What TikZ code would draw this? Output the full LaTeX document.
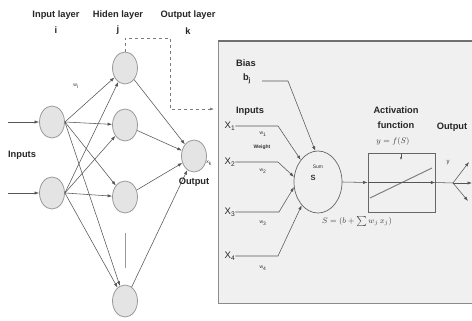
\documentclass[tikz,border=0pt]{standalone}
\usepackage{fontspec}
\setmainfont{Liberation Sans}
\usetikzlibrary{arrows.meta,shapes.geometric}
\definecolor{nodefill}{HTML}{E4E4E4}
\definecolor{nodeline}{HTML}{9A9A9A}
\definecolor{wire}{HTML}{555555}
\definecolor{boxfill}{HTML}{F0F0F0}
\definecolor{boxline}{HTML}{8C8C8C}
\begin{document}
\begin{tikzpicture}[x=1pt,y=-1pt,
  neuron/.style={ellipse,draw=nodeline,fill=nodefill,line width=0.8pt,minimum width=25pt,minimum height=32pt,inner sep=0pt},
  wirearrow/.style={draw=wire,line width=0.55pt,-{Latex[length=4.5pt,width=3.2pt]}},
  plainwire/.style={draw=wire,line width=0.55pt},
  lbl/.style={font=\bfseries\fontsize{9.3}{10}\selectfont,text=black!85,inner sep=0pt},
  tinytxt/.style={font=\fontsize{5}{6}\selectfont,text=black!80,inner sep=0pt},
  xl/.style={font=\fontsize{9.5}{10}\selectfont,text=black!85,inner sep=0pt},
  mathtxt/.style={font=\fontsize{8}{9}\selectfont,text=black!75,inner sep=0pt}]
\useasboundingbox (0,0) rectangle (472,321);
\fill[white] (0,0) rectangle (472,321);

% ---------- left network ----------
\node[lbl] (tin) at (56,15) {Input layer};
\node[lbl] (ti) at (56,30) {i};
\node[lbl] (thid) at (118,15) {Hiden layer};
\node[lbl] (tj) at (118,30) {j};
\node[lbl] (tout) at (188,15) {Output layer};
\node[lbl] (tk) at (188,31) {k};

\node[neuron] (i1) at (52,122) {};
\node[neuron] (i2) at (52,193) {};
\node[neuron] (h1) at (125,68) {};
\node[neuron] (h2) at (125,125) {};
\node[neuron] (h3) at (125,197) {};
\node[neuron] (h4) at (125,301) {};
\node[neuron] (o) at (194,156) {};

\coordinate (in1) at (8,122);
\coordinate (in2) at (8,193);
\draw[wirearrow] (in1) -- (i1.west);
\draw[wirearrow] (in2) -- (i2.west);
\node[lbl] (tinputs) at (22,155) {Inputs};

\foreach \a in {i1,i2}{
  \foreach \b in {h1,h2,h3,h4}{
    \draw[wirearrow] (\a.east) -- (\b);
  }
}
\foreach \b in {h1,h2,h3,h4}{
  \draw[wirearrow] (\b) -- (o);
}
\draw[nodeline,line width=0.7pt] (125,233) -- (125,268);

\node[tinytxt] (twi) at (76,86) {w\textsubscript{i}};
\node[tinytxt] (txk) at (209,163) {x\textsubscript{k}};
\node[lbl] (toutp) at (194,182) {Output};

\coordinate (dashend) at (214,109);
\draw[dashed,draw=nodeline!80!black,line width=0.6pt,-{Latex[length=4pt,width=3pt]}]
  (h1.north) -- (125,38) -- (170,38) -- (170,109) -- (dashend);

% ---------- right panel ----------
\node[draw=boxline,fill=boxfill,line width=0.8pt,minimum width=260pt,minimum height=262pt,inner sep=0pt,anchor=north west] (panel) at (218,41) {};
\draw[boxline!80!black,line width=1.6pt] (panel.north west) -- (panel.north east);

\node[lbl] (tbias) at (246,63) {Bias};
\node[lbl] (tbj) at (247,79) {b\textsubscript{j}};

\node[ellipse,draw=wire!90,line width=0.7pt,minimum width=48pt,minimum height=62pt,inner sep=0pt] (sum) at (318,182) {};
\node[tinytxt] (tsum) at (318,167) {Sum};
\node[font=\bfseries\fontsize{7.5}{8}\selectfont,text=black!80,inner sep=0pt] (tS) at (313,178) {S};

\coordinate (bstart) at (262,81);
\draw[wirearrow] (bstart) -- (288,81) -- (sum.95);

\node[lbl] (tinp) at (250,111) {Inputs};
\node[xl] (x1) at (230,126) {X\textsubscript{1}};
\node[xl] (x2) at (230,162) {X\textsubscript{2}};
\node[xl] (x3) at (230,212) {X\textsubscript{3}};
\node[xl] (x4) at (230,256) {X\textsubscript{4}};

\draw[wirearrow] (x1.east) -- (278,126) -- (sum.128);
\draw[wirearrow] (x2.east) -- (278,162) -- (sum.168);
\draw[wirearrow] (x3.east) -- (279,212) -- (sum.192);
\draw[wirearrow] (x4.east) -- (278,256) -- (sum.235);

\node[tinytxt] (tw1) at (263,134) {w\textsubscript{1}};
\node[tinytxt,font=\bfseries\fontsize{5}{6}\selectfont] (tweight) at (262,147) {Weight};
\node[tinytxt] (tw2) at (263,171) {w\textsubscript{2}};
\node[tinytxt] (tw3) at (263,223) {w\textsubscript{3}};
\node[tinytxt] (tw4) at (263,268) {w\textsubscript{4}};

\node[mathtxt] (tformula) at (357,221) {$S=(b+\sum w_j\, x_j)$};

\node[draw=wire!90,line width=0.7pt,minimum width=67pt,minimum height=59pt,inner sep=0pt] (act) at (401.5,182.5) {};
\draw[gray,line width=1pt] (370,198) -- (432,168);
\draw[draw=wire,line width=0.5pt,-{Latex[length=2.5pt,width=2pt]}] (401,154) -- (401,160);

\draw[wirearrow] (sum.east) -- (act.west);
\draw[wirearrow] (act.west) -- (act.east);
\coordinate (split) at (453,183);
\coordinate (oy1) at (469,162);
\coordinate (oy2) at (472,183);
\coordinate (oy3) at (468,201);
\draw[plainwire] (act.east) -- (split);
\draw[wirearrow] (split) -- (oy1);
\draw[wirearrow] (split) -- (oy2);
\draw[wirearrow] (split) -- (oy3);

\node[lbl] (tact) at (396,110) {Activation};
\node[lbl] (tfun) at (396,125) {function};
\node[mathtxt] (tfs) at (393,141) {$y=f(S)$};
\node[lbl] (toutr) at (452,127) {Output};
\node[tinytxt,font=\fontsize{6}{7}\selectfont] (ty) at (448,163) {y};
\end{tikzpicture}
\end{document}
